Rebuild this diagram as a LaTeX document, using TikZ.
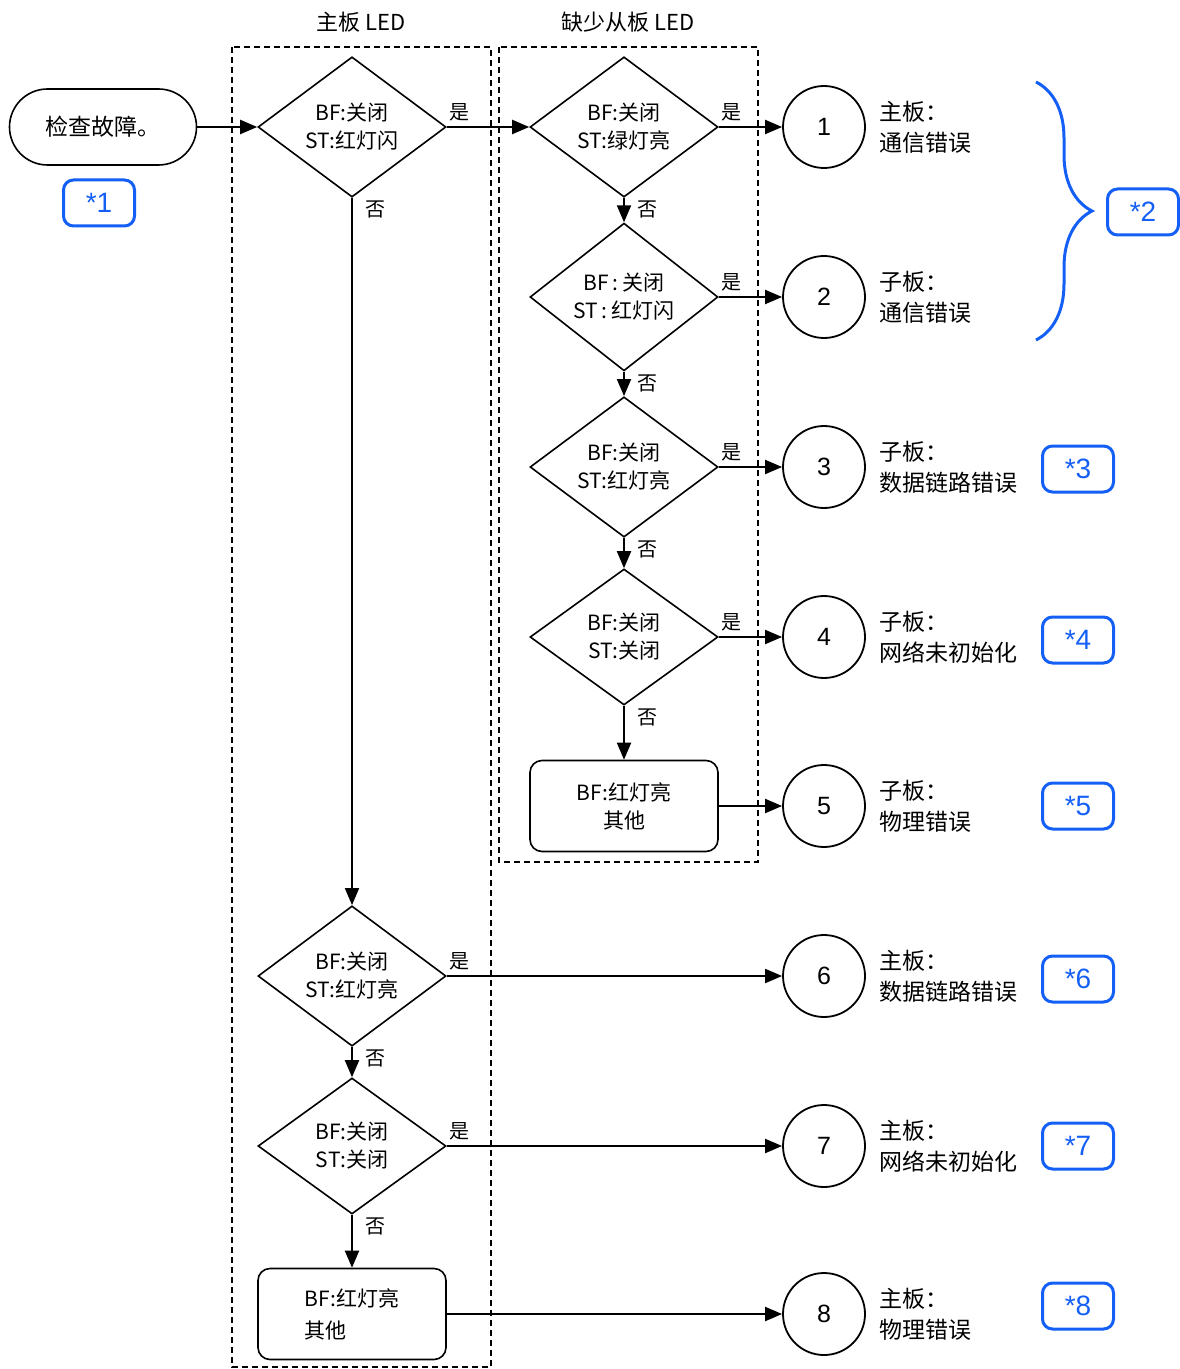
\documentclass[tikz,border=0pt]{standalone}
\usepackage{fontspec}
\setmainfont{Noto Sans CJK SC}
\newfontfamily\latfont{Liberation Sans}
\usetikzlibrary{shapes.geometric,arrows.meta,positioning,decorations.pathreplacing}
\definecolor{tagblue}{RGB}{20,95,245}
\begin{document}
\begin{tikzpicture}[x=0.5pt,y=-0.5pt,>={Triangle[length=8.5pt,width=7pt]},
    cond/.style={diamond,draw,line width=0.8pt,minimum width=94pt,minimum height=68pt,inner sep=0pt,align=center,font=\fontsize{10.5}{14}\selectfont},
    endbox/.style={draw,line width=0.8pt,rounded corners=6pt,minimum width=94pt,minimum height=45.5pt,align=center,font=\fontsize{10.5}{14}\selectfont},
    res/.style={circle,draw,line width=0.9pt,minimum size=41pt,inner sep=0pt,font=\latfont\fontsize{12.5}{14}\selectfont},
    note/.style={inner sep=0pt,align=left,font=\fontsize{11.5}{15.5}\selectfont},
    tag/.style={draw=tagblue,text=tagblue,line width=1.5pt,rounded corners=5pt,minimum width=35.5pt,minimum height=23pt,inner sep=0pt,font=\latfont\fontsize{14}{16}\selectfont},
    frame/.style={line width=1pt,dash pattern=on 3pt off 2pt},
    arr/.style={->,line width=1pt},
    yes/.style={pos=0,anchor=south west,inner sep=1pt,yshift=1.5pt,font=\fontsize{10}{11}\selectfont},
    no/.style={pos=0,anchor=north west,inner sep=1pt,xshift=5pt,font=\fontsize{10}{11}\selectfont}]
  \useasboundingbox (0,0) rectangle (1179,1369);
  \draw[frame] (232,47) rectangle (491,1367);
  \draw[frame] (499,47) rectangle (758,862);
  \node[font=\fontsize{11}{13}\selectfont] (tmain) at (361,22) {主板 LED};
  \node[font=\fontsize{11}{13}\selectfont] (tsub) at (628,22) {缺少从板 LED};

  \node[draw,line width=0.8pt,rounded corners=19pt,minimum width=93.5pt,minimum height=38pt,font=\fontsize{11.5}{13}\selectfont] (start) at (103,127) {检查故障。};
  \node[cond] (m1) at (352,127) {BF:关闭\\ST:红灯闪};
  \node[cond] (m2) at (352,976) {BF:关闭\\ST:红灯亮};
  \node[cond] (m3) at (352,1146) {BF:关闭\\ST:关闭};
  \node[endbox,align=left,font=\fontsize{10.5}{16}\selectfont] (m4) at (352,1314) {BF:红灯亮\\其他};
  \node[cond] (s1) at (624,127) {BF:关闭\\ST:绿灯亮};
  \node[cond] (s2) at (624,297) {BF\,:\,关闭\\ST\,:\,红灯闪};
  \node[cond] (s3) at (624,467) {BF:关闭\\ST:红灯亮};
  \node[cond] (s4) at (624,637) {BF:关闭\\ST:关闭};
  \node[endbox] (s5) at (624,806) {BF:红灯亮\\其他};

  \foreach \i/\y/\a/\b in {1/127/主板/通信错误,2/297/子板/通信错误,3/467/子板/数据链路错误,4/637/子板/网络未初始化,
      5/806/子板/物理错误,6/976/主板/数据链路错误,7/1146/主板/网络未初始化,8/1314/主板/物理错误}{
    \node[res] (r\i) at (824,\y) {\i};
    \node[note,right=6.5pt of r\i] (n\i) {\a：\\\b};
  }

  \node[tag] (t1) at (99,203) {*1};
  \node[tag] (t2) at (1143,212) {*2};
  \foreach \i/\y in {3/469,4/640,5/806,6/979,7/1146,8/1306}
    \node[tag] (t\i) at (1078,\y) {*\i};
  \draw[tagblue,line width=1.5pt,decorate,decoration={brace,amplitude=28pt}] (1036,82) -- (1036,340);

  \draw[arr] (start) -- (m1);
  \draw[arr] (m1.east) -- node[yes]{是} (s1.west);
  \draw[arr] (m1.south) -- node[no]{否} (m2.north);
  \draw[arr] (m2.south) -- node[no]{否} (m3.north);
  \draw[arr] (m3.south) -- node[no]{否} (m4.north);
  \draw[arr] (s1.south) -- node[no]{否} (s2.north);
  \draw[arr] (s2.south) -- node[no]{否} (s3.north);
  \draw[arr] (s3.south) -- node[no]{否} (s4.north);
  \draw[arr] (s4.south) -- node[no]{否} (s5.north);
  \draw[arr] (s1.east) -- node[yes]{是} (r1.west);
  \draw[arr] (s2.east) -- node[yes]{是} (r2.west);
  \draw[arr] (s3.east) -- node[yes]{是} (r3.west);
  \draw[arr] (s4.east) -- node[yes]{是} (r4.west);
  \draw[arr] (s5.east) -- (r5.west);
  \draw[arr] (m2.east) -- node[yes]{是} (r6.west);
  \draw[arr] (m3.east) -- node[yes]{是} (r7.west);
  \draw[arr] (m4.east) -- (r8.west);
\end{tikzpicture}
\end{document}
